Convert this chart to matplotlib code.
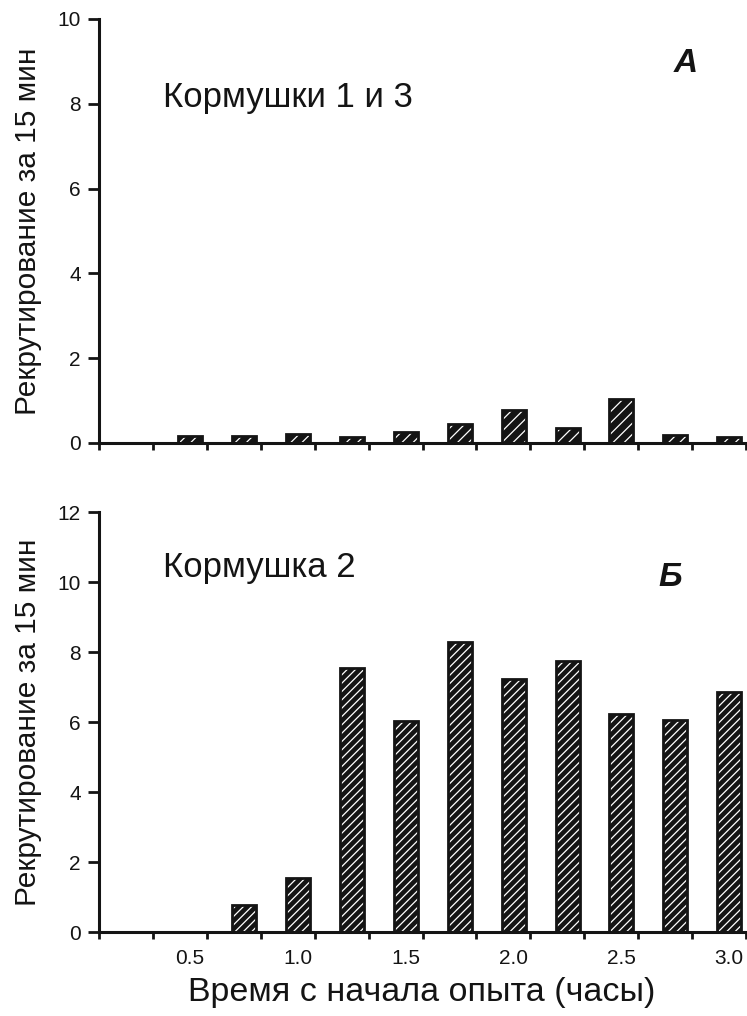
import matplotlib
matplotlib.use("Agg")
import matplotlib.pyplot as plt
import numpy as np

plt.rcParams['font.family'] = ['Liberation Sans', 'DejaVu Sans']
plt.rcParams['hatch.linewidth'] = 0.9

# Recruitment per 15-minute interval
hours = [0.5, 0.75, 1.0, 1.25, 1.5, 1.75, 2.0, 2.25, 2.5, 2.75, 3.0]
feeders_1_3 = [0.17, 0.16, 0.21, 0.15, 0.25, 0.44, 0.79, 0.35, 1.03, 0.19, 0.13]
feeder_2 = [0.0, 0.77, 1.54, 7.54, 6.03, 8.29, 7.23, 7.74, 6.23, 6.06, 6.86]
hour_labels = ['0.5', '1.0', '1.5', '2.0', '2.5', '3.0']

ylabel = 'Рекрутирование за 15 мин'
xlabel = 'Время с начала опыта (часы)'

W, H = 747, 1016
fig = plt.figure(figsize=(W / 100, H / 100), dpi=100)

ax_top = fig.add_axes([99 / W, 1 - 443 / H, 647 / W, 424 / H])
ax_bot = fig.add_axes([99 / W, 1 - 932 / H, 647 / W, 420 / H])

step = 0.25
shift = 0.1725
bar_w = 0.111
ink = '#141414'


def draw_panel(ax, values, ymax, hatch):
    x = np.array(hours)
    # black bars with white diagonal hatching, then a black outline
    ax.bar(x, values, width=bar_w, color=ink, edgecolor='white',
           hatch=hatch, linewidth=0, zorder=2)
    ax.bar(x, values, width=bar_w, facecolor='none', edgecolor=ink,
           linewidth=2.0, zorder=3)

    # interval boundaries carry the tick marks
    edges = np.concatenate([[x[0] - step], x]) - shift + step
    edges = np.concatenate([[edges[0] - step], edges])
    ax.set_xlim(edges[0], edges[-1])
    ax.set_ylim(0, ymax)

    ax.spines['top'].set_visible(False)
    ax.spines['right'].set_visible(False)
    for s in ('left', 'bottom'):
        ax.spines[s].set_linewidth(2.2)
        ax.spines[s].set_color(ink)
    ax.spines['bottom'].set_zorder(4)

    ax.set_yticks(np.arange(0, ymax + 1, 2))
    ax.tick_params(axis='y', direction='out', length=8, width=2,
                   pad=5, labelsize=15, colors=ink)

    ax.set_xticks(edges, minor=True)
    ax.tick_params(axis='x', which='minor', direction='out', length=5,
                   width=2, color=ink)
    ax.set_xticks(x[::2])
    ax.tick_params(axis='x', which='major', length=0, pad=12,
                   labelsize=15, colors=ink)

    ax.set_ylabel(ylabel, fontsize=21.5, color=ink, labelpad=11)


draw_panel(ax_top, feeders_1_3, 10, '///')
draw_panel(ax_bot, feeder_2, 12, '////')

ax_top.set_xticklabels([])
ax_bot.set_xticklabels(hour_labels)

fig.text(163 / W, 1 - 97 / H, 'Кормушки 1 и 3', fontsize=25, color=ink,
         ha='left', va='center')
fig.text(163 / W, 1 - 568 / H, 'Кормушка 2', fontsize=25, color=ink,
         ha='left', va='center')
fig.text(686 / W, 1 - 64 / H, 'A', fontsize=24, color=ink, ha='center',
         va='center', fontweight='bold', fontstyle='italic')
fig.text(670 / W, 1 - 577 / H, 'Б', fontsize=24, color=ink, ha='center',
         va='center', fontweight='bold', fontstyle='italic')

fig.text(422 / W, 1 - 993 / H, xlabel, fontsize=24.5, color=ink,
         ha='center', va='center')

fig.savefig('out.png', dpi=100)
